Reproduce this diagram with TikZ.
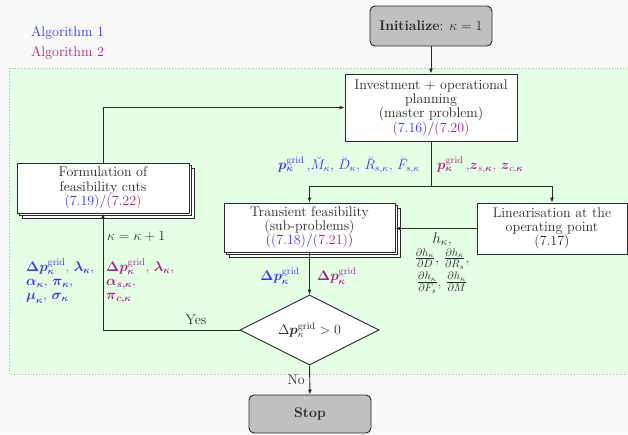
\RequirePackage{fix-cm}
\documentclass[tikz,border=0pt]{standalone}
\usepackage{amsmath}
\usetikzlibrary{arrows.meta,shapes.geometric,shadows}

\definecolor{algone}{RGB}{55,55,250}
\definecolor{algtwo}{RGB}{165,35,135}
\definecolor{pagebg}{RGB}{249,249,249}
\definecolor{loopbg}{RGB}{229,255,229}
\definecolor{ink}{RGB}{40,40,40}
\definecolor{termfill}{RGB}{192,192,192}

\newcommand{\pgridb}{\boldsymbol{p}^{\mathrm{grid}}_{\boldsymbol{\kappa}}}
\newcommand{\dpgridb}{\boldsymbol{\Delta p}^{\mathrm{grid}}_{\boldsymbol{\kappa}}}

\tikzset{
  every node/.style={font=\fontsize{14}{14.3}\selectfont, text=ink},
  conn/.style={draw=ink, line width=0.9pt},
  arr/.style={conn, -{Latex[length=5pt,width=4pt]}},
  box/.style={draw=ink, fill=white, line width=0.9pt, align=center, inner sep=3pt},
  term/.style={box, fill=termfill, rounded corners=5pt, minimum width=122pt, minimum height=40pt},
  stack/.style={box,
    copy shadow={shadow xshift=5pt, shadow yshift=-5pt, fill=white, draw=ink, line width=0.9pt},
    copy shadow={shadow xshift=2.5pt, shadow yshift=-2.5pt, fill=white, draw=ink, line width=0.9pt}},
  decision/.style={draw=ink, fill=white, line width=0.9pt, diamond, aspect=2, inner sep=0pt,
    minimum width=139pt, minimum height=70pt},
  lbl/.style={inner sep=0pt, align=left}
}

\begin{document}
\begin{tikzpicture}[x=1pt, y=-1pt]
  \path[use as bounding box] (0,0) rectangle (628,434);
  \clip (0,0) rectangle (628,434);
  \fill[pagebg] (0,0) rectangle (628,434);

  % iteration area
  \draw[fill=loopbg, draw=black!30, dotted, line width=0.8pt] (9,68) rectangle (660,374);

  % legend
  \node[anchor=west, text=algone, inner sep=0pt] (legA) at (31,33) {Algorithm 1};
  \node[anchor=west, text=algtwo, inner sep=0pt] (legB) at (31,53) {Algorithm 2};

  % blocks
  \node[term] (init) at (431,26) {\textbf{Initialize}: $\kappa=1$};
  \node[box, minimum width=172pt, minimum height=67pt] (master) at (431,107.5)
    {Investment + operational\\planning\\(master problem)\\\textcolor{algone}{(7.16)}/\textcolor{algtwo}{(7.20)}};
  \node[stack, minimum width=172pt, minimum height=50pt] (form) at (103,188)
    {Formulation of\\feasibility cuts\\\textcolor{algone}{(7.19)}/\textcolor{algtwo}{(7.22)}};
  \node[stack, minimum width=171pt, minimum height=49pt] (trans) at (309.5,227.5)
    {Transient feasibility\\(sub-problems)\\(\textcolor{algone}{(7.18)}/\textcolor{algtwo}{(7.21)})};
  \node[box, minimum width=150pt, minimum height=51pt] (lin) at (552,228.5)
    {Linearisation at the\\operating point\\(7.17)};
  \node[decision] (dec) at (309.5,330) {$\Delta\boldsymbol{p}^{\mathrm{grid}}_{\kappa} > 0$};
  \node[term, minimum height=38pt] (stop) at (310,414) {\textbf{Stop}};

  % connectors
  \coordinate (split) at (431,186);
  \draw[arr] (init) -- (master);
  \draw[conn] (master.south) -- (split);
  \draw[arr] (split) -| (trans.north);
  \draw[arr] (split) -| (lin.north);
  \draw[arr] (lin.west) -- (lin.west -| trans.east);
  \draw[arr] (trans.south) -- (dec.north);
  \draw[arr] (dec.west) -| (form.south);
  \draw[arr] (form.north) |- (master.west);
  \draw[arr] (dec.south) -- (stop.north);

  % labels
  \node[lbl, anchor=east, text=algone] (lsplitA) at (420,165)
    {$\pgridb$\,,$\breve{M}_{\kappa}$, $\breve{D}_{\kappa}$, $\breve{R}_{s,\kappa}$, $\breve{F}_{s,\kappa}$};
  \node[lbl, anchor=west, text=algtwo] (lsplitB) at (437,165)
    {$\pgridb$\,,$\boldsymbol{z}_{s,\boldsymbol{\kappa}}$, $\boldsymbol{z}_{c,\boldsymbol{\kappa}}$};
  \node[lbl, align=center, font=\fontsize{15.5}{16}\selectfont] (lsens) at (442,263)
    {$h_{\kappa}$,\\[1pt]
     $\tfrac{\partial h_{\kappa}}{\partial D}$, $\tfrac{\partial h_{\kappa}}{\partial R_s}$,\\[2pt]
     $\tfrac{\partial h_{\kappa}}{\partial F_s}$, $\tfrac{\partial h_{\kappa}}{\partial M}$};
  \node[lbl, anchor=east, text=algone] (ldA) at (300,276) {$\dpgridb$};
  \node[lbl, anchor=west, text=algtwo] (ldB) at (317,276) {$\dpgridb$};
  \node[lbl, anchor=west] (linc) at (107,237) {$\kappa=\kappa+1$};
  \node[lbl, anchor=north west, text=algone] (lcutA) at (26,258)
    {$\dpgridb$, $\boldsymbol{\lambda}_{\boldsymbol{\kappa}}$,\\
     $\boldsymbol{\alpha}_{\boldsymbol{\kappa}}$, $\boldsymbol{\pi}_{\boldsymbol{\kappa}}$,\\
     $\boldsymbol{\mu}_{\boldsymbol{\kappa}}$, $\boldsymbol{\sigma}_{\boldsymbol{\kappa}}$};
  \node[lbl, anchor=north west, text=algtwo] (lcutB) at (106,258)
    {$\dpgridb$, $\boldsymbol{\lambda}_{\boldsymbol{\kappa}}$,\\
     $\boldsymbol{\alpha}_{\boldsymbol{s,\kappa}}$,\\
     $\boldsymbol{\pi}_{\boldsymbol{c,\kappa}}$};
  \node[lbl] (lyes) at (196,320) {Yes};
  \node[lbl, anchor=east] (lno) at (305,380) {No};
\end{tikzpicture}
\end{document}
